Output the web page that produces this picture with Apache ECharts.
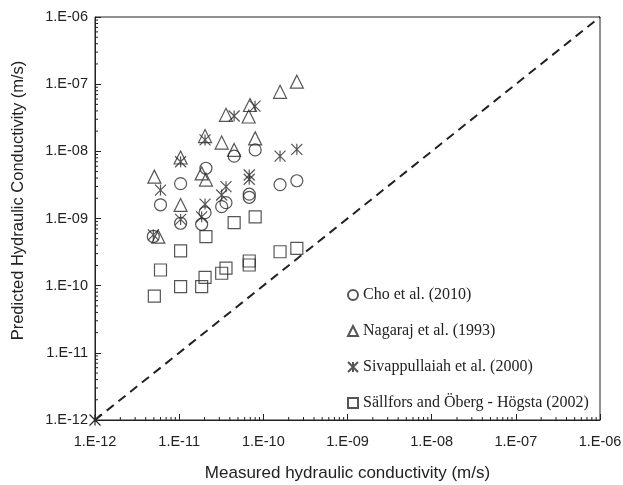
<!DOCTYPE html>
<html>
<head>
<meta charset="utf-8">
<title>Predicted vs measured hydraulic conductivity</title>
<script src="https://cdn.jsdelivr.net/npm/echarts@6/dist/echarts.min.js"></script>
<style>
  html, body { margin: 0; padding: 0; background: #fff; }
  #chart { width: 623px; height: 485px; }
</style>
</head>
<body>
<div id="chart"></div>
<script>
// measured / predicted hydraulic conductivity (m/s)
var choX = [2.5e-10, 1.58e-10, 8.0e-11, 4.5e-11, 2.08e-11, 1.04e-11, 6.0e-12, 6.8e-11, 6.8e-11, 3.6e-11, 3.2e-11, 2.03e-11, 1.04e-11, 1.85e-11, 4.93e-12];
var choY = [3.65e-9, 3.2e-9, 1.05e-8, 8.5e-9, 5.6e-9, 3.3e-9, 1.6e-9, 2.3e-9, 2.07e-9, 1.72e-9, 1.5e-9, 1.22e-9, 8.5e-10, 8.2e-10, 5.4e-10];

var nagX = [2.5e-10, 1.58e-10, 6.95e-11, 3.6e-11, 6.7e-11, 2.03e-11, 3.2e-11, 8.0e-11, 4.5e-11, 1.04e-11, 5.07e-12, 1.85e-11, 2.08e-11, 1.04e-11, 5.65e-12];
var nagY = [1.09e-7, 7.7e-8, 4.9e-8, 3.5e-8, 3.3e-8, 1.69e-8, 1.35e-8, 1.56e-8, 1.05e-8, 8.1e-9, 4.2e-9, 4.7e-9, 3.8e-9, 1.59e-9, 5.36e-10];

var sivX = [2.5e-10, 1.58e-10, 7.96e-11, 4.5e-11, 2.03e-11, 1.04e-11, 6.0e-12, 6.8e-11, 6.8e-11, 3.6e-11, 3.2e-11, 2.03e-11, 1.04e-11, 1.85e-11, 4.93e-12];
var sivY = [1.07e-8, 8.5e-9, 4.7e-8, 3.36e-8, 1.48e-8, 7.0e-9, 2.65e-9, 4.45e-9, 3.84e-9, 2.98e-9, 2.24e-9, 1.64e-9, 9.7e-10, 1.06e-9, 5.7e-10];

var salX = [2.5e-10, 1.58e-10, 8.0e-11, 4.5e-11, 2.08e-11, 1.04e-11, 6.0e-12, 6.8e-11, 6.8e-11, 3.6e-11, 3.2e-11, 2.03e-11, 1.04e-11, 1.85e-11, 5.07e-12];
var salY = [3.6e-10, 3.2e-10, 1.06e-9, 8.7e-10, 5.36e-10, 3.3e-10, 1.71e-10, 2.33e-10, 2.03e-10, 1.82e-10, 1.53e-10, 1.33e-10, 9.7e-11, 9.7e-11, 7.0e-11];

var seriesNames = ['Cho et al. (2010)', 'Nagaraj et al. (1993)', 'Sivappullaiah et al. (2000)', 'Sällfors and Öberg - Högsta (2002)'];
var lineX = [1e-12, 1e-6];
var decades = [1e-12, 1e-11, 1e-10, 1e-9, 1e-8, 1e-7];
var minorSteps = [2, 3, 4, 5, 6, 7, 8, 9];

var starPath = 'path://M0,0L10,10M10,0L0,10M5,0L5,10';
var ink = '#2a2a2a';

function pairs(xs, ys) {
  return xs.map(function (x, i) { return [x, ys[i]]; });
}

// minor tick positions (2..9 per decade) for both axes
var minorData = [];
decades.forEach(function (d) {
  minorSteps.forEach(function (m) { minorData.push([d * m]); });
});

function fmt(v) {
  var e = Math.round(Math.log10(v));
  var s = Math.abs(e) < 10 ? '0' + Math.abs(e) : '' + Math.abs(e);
  return '1.E' + (e < 0 ? '-' : '+') + s;
}

function scatter(name, data, symbol, size) {
  return {
    name: name,
    type: 'scatter',
    data: data,
    symbol: symbol,
    symbolSize: size,
    itemStyle: { color: 'rgba(0,0,0,0)', borderColor: ink, borderWidth: 1.2 },
    emphasis: { disabled: true }
  };
}

var chart = echarts.init(document.getElementById('chart'));

chart.setOption({
  animation: false,
  textStyle: { fontFamily: 'Liberation Sans, Arial, sans-serif' },
  grid: {
    left: 95, right: 23, top: 17, bottom: 65,
    outerBoundsMode: 'none',
    containLabel: false,
    show: true, borderColor: '#222', borderWidth: 1
  },
  legend: {
    orient: 'vertical',
    left: 342,
    top: 282,
    itemWidth: 10,
    itemHeight: 10,
    itemGap: 20,
    textStyle: { fontFamily: 'Liberation Serif, Times New Roman, serif', fontSize: 16, color: '#222' },
    data: seriesNames
  },
  xAxis: {
    type: 'log',
    logBase: 10,
    min: 1e-12,
    max: 1e-6,
    name: 'Measured hydraulic conductivity (m/s)',
    nameLocation: 'middle',
    nameGap: 45,
    nameTextStyle: { fontSize: 17, color: '#222' },
    axisLine: { lineStyle: { color: '#222' } },
    axisTick: { inside: true, length: 6, lineStyle: { color: '#222' } },
    axisLabel: { fontSize: 14.5, color: '#222', margin: 14, formatter: fmt },
    splitLine: { show: false }
  },
  yAxis: {
    type: 'log',
    logBase: 10,
    min: 1e-12,
    max: 1e-6,
    name: 'Predicted Hydraulic Conductivity (m/s)',
    nameLocation: 'middle',
    nameGap: 68,
    nameTextStyle: { fontSize: 16.5, color: '#222', padding: [0, 0, 0, 36] },
    axisLine: { lineStyle: { color: '#222' } },
    axisTick: { inside: true, length: 6, lineStyle: { color: '#222' } },
    axisLabel: { fontSize: 14.5, color: '#222', margin: 7, formatter: fmt },
    splitLine: { show: false }
  },
  series: [
    scatter(seriesNames[0], pairs(choX, choY), 'circle', 12),
    scatter(seriesNames[1], pairs(nagX, nagY), 'triangle', 13),
    scatter(seriesNames[2], pairs(sivX, sivY), starPath, 11),
    scatter(seriesNames[3], pairs(salX, salY), 'rect', 12),
    {
      name: '1:1',
      type: 'line',
      clip: false,
      data: [
        { value: [lineX[0], lineX[0]], symbol: starPath, symbolSize: 11 },
        { value: [lineX[1], lineX[1]], symbol: 'none' }
      ],
      showSymbol: true,
      itemStyle: { color: 'rgba(0,0,0,0)', borderColor: ink, borderWidth: 1.2 },
      lineStyle: { color: '#222', width: 2, type: [9, 6] },
      emphasis: { disabled: true },
      z: 1
    },
    {
      name: 'minorX',
      type: 'custom',
      clip: false,
      silent: true,
      data: minorData,
      renderItem: function (params, api) {
        var p = api.coord([api.value(0), 1e-12]);
        return { type: 'line', shape: { x1: p[0], y1: p[1], x2: p[0], y2: p[1] - 3 },
                 style: { stroke: '#222', lineWidth: 1 } };
      }
    },
    {
      name: 'minorY',
      type: 'custom',
      clip: false,
      silent: true,
      data: minorData,
      renderItem: function (params, api) {
        var p = api.coord([1e-12, api.value(0)]);
        return { type: 'line', shape: { x1: p[0], y1: p[1], x2: p[0] + 3, y2: p[1] },
                 style: { stroke: '#222', lineWidth: 1 } };
      }
    }
  ]
});
</script>
</body>
</html>
